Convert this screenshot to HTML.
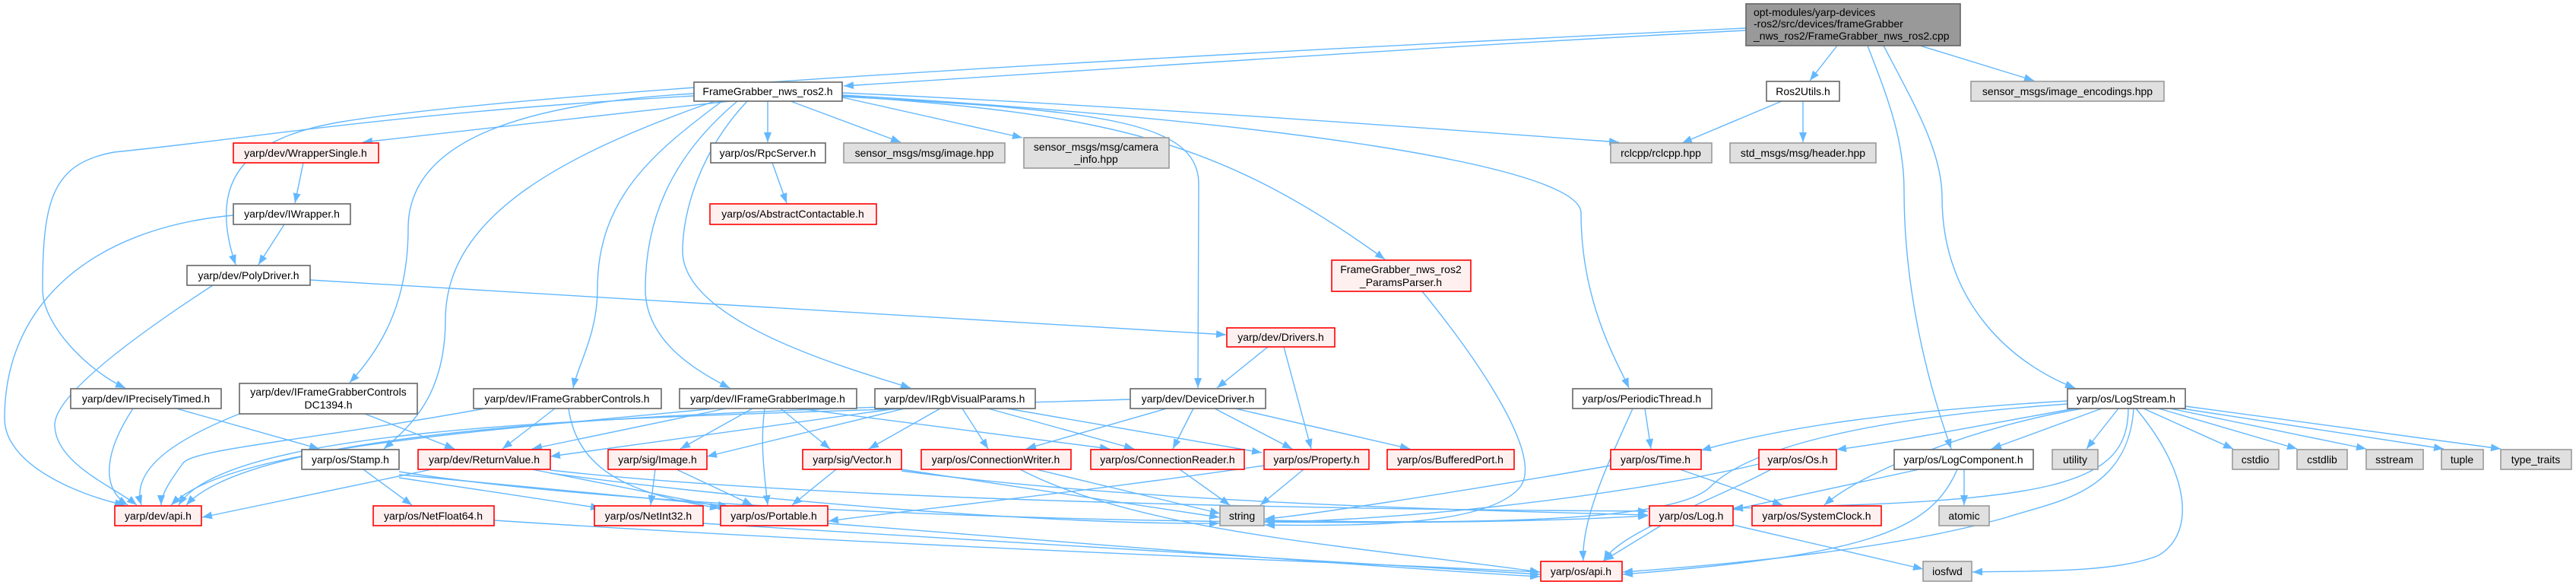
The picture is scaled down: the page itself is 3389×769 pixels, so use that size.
<!DOCTYPE html>
<html><head><meta charset="utf-8"><style>
html,body{margin:0;padding:0;background:#fff;}
svg{display:block;}
text{font-family:"Liberation Sans",sans-serif;font-size:14px;fill:#000;}
.e{fill:none;stroke:#63b8ff;stroke-width:1.4;marker-end:url(#a);}
.w{fill:#fff;stroke:#666;stroke-width:1.6;}
.r{fill:#fff0f0;stroke:#ff0000;stroke-width:1.6;}
.g{fill:#e0e0e0;stroke:#999;stroke-width:1.6;}
.k{fill:#999;stroke:#666;stroke-width:1.6;}
</style></head><body>
<svg width="3389" height="769" viewBox="0 0 3389 769" xmlns="http://www.w3.org/2000/svg">
<defs><marker id="a" markerUnits="userSpaceOnUse" markerWidth="14" markerHeight="10" refX="13" refY="5" orient="auto"><path d="M0,0 L13,5 L0,10 z" fill="#63b8ff"/></marker></defs>
<g>
<path class="e" d="M2297,40 C1900,60 1400,95 1110,113"/>
<path class="e" d="M2297,37 C1500,75 700,120 450,160 C330,180 270,230 310,348"/>
<path class="e" d="M2417,60 L2381,106"/>
<path class="e" d="M2526,60 L2676,106"/>
<path class="e" d="M2457,60 C2480,120 2505,180 2505,250 C2505,380 2535,500 2567,590"/>
<path class="e" d="M2478,60 C2520,140 2555,200 2555,260 C2555,400 2650,480 2730,510"/>
<path class="e" d="M960,133 L477,187"/>
<path class="e" d="M1010,133 L1010,187"/>
<path class="e" d="M1040,133 L1185,187"/>
<path class="e" d="M1108,128 L1345,181"/>
<path class="e" d="M1108,122 C1500,140 1900,170 2130,187"/>
<path class="e" d="M1108,126 C1450,150 1600,180 1822,341"/>
<path class="e" d="M1108,127 C1450,145 1575,160 1577,240 L1576,510"/>
<path class="e" d="M1108,125 C1700,160 2080,220 2080,280 C2080,400 2130,480 2143,510"/>
<path class="e" d="M913,126 C500,150 350,180 150,200 C70,215 56,260 56,380 C56,430 120,490 165,510"/>
<path class="e" d="M913,123 C700,135 537,180 537,300 C537,400 500,460 460,503"/>
<path class="e" d="M940,133 C750,200 586,280 586,420 C586,520 540,560 505,590"/>
<path class="e" d="M950,133 C860,200 786,260 786,380 C786,440 760,480 754,510"/>
<path class="e" d="M970,133 C890,200 849,280 849,380 C849,450 920,490 960,510"/>
<path class="e" d="M983,133 C920,200 898,280 898,330 C898,420 1100,480 1198,510"/>
<path class="e" d="M307,283 C120,300 6,400 6,550 C6,610 100,650 164,664"/>
<path class="e" d="M280,375 C180,440 70,520 72,560 C74,610 150,640 180,664"/>
<path class="e" d="M374,295 L340,348"/>
<path class="e" d="M399,214 L388,267"/>
<path class="e" d="M1016,214 L1035,267"/>
<path class="e" d="M408,368 L1613,440"/>
<path class="e" d="M1668,456 L1601,510"/>
<path class="e" d="M1689,456 L1725,590"/>
<path class="e" d="M2344,133 L2213,188"/>
<path class="e" d="M2372,133 L2372,187"/>
<path class="e" d="M1871,383 C1950,480 2030,600 2000,640 C1960,690 1800,692 1664,690"/>
<path class="e" d="M2148,537 C2120,600 2080,680 2083,737"/>
<path class="e" d="M2164,537 L2172,590"/>
<path class="e" d="M175,537 C140,590 130,640 168,664"/>
<path class="e" d="M232,537 L420,590"/>
<path class="e" d="M315,544 C250,570 170,610 186,664"/>
<path class="e" d="M480,544 L598,590"/>
<path class="e" d="M638,537 C400,580 250,590 240,610 C225,630 212,650 212,664"/>
<path class="e" d="M730,537 L661,590"/>
<path class="e" d="M748,537 C760,620 830,650 947,668"/>
<path class="e" d="M940,537 C600,570 300,590 225,664"/>
<path class="e" d="M955,537 L700,590"/>
<path class="e" d="M990,537 L895,590"/>
<path class="e" d="M1006,537 C1000,580 1005,620 1010,664"/>
<path class="e" d="M1027,537 L1092,590"/>
<path class="e" d="M1050,537 L1460,590"/>
<path class="e" d="M1200,537 C800,550 300,560 235,664"/>
<path class="e" d="M1180,537 L724,600"/>
<path class="e" d="M1190,537 L930,600"/>
<path class="e" d="M1237,537 L1143,590"/>
<path class="e" d="M1266,537 L1300,590"/>
<path class="e" d="M1300,537 L1492,590"/>
<path class="e" d="M1325,537 L1660,595"/>
<path class="e" d="M1487,525 C1000,540 350,550 245,664"/>
<path class="e" d="M1535,537 L1350,590"/>
<path class="e" d="M1570,537 L1543,590"/>
<path class="e" d="M1598,537 L1700,590"/>
<path class="e" d="M1625,537 L1855,590"/>
<path class="e" d="M478,617 L542,664"/>
<path class="e" d="M525,628 L790,668"/>
<path class="e" d="M525,624 L958,665"/>
<path class="e" d="M525,620 C900,680 1800,700 2168,678"/>
<path class="e" d="M568,617 L266,680"/>
<path class="e" d="M700,617 L958,668"/>
<path class="e" d="M724,622 C1000,660 1400,690 1604,688"/>
<path class="e" d="M724,618 C1100,660 1800,670 2168,672"/>
<path class="e" d="M862,617 L856,664"/>
<path class="e" d="M890,617 L990,664"/>
<path class="e" d="M1100,617 L1042,664"/>
<path class="e" d="M1186,617 L1604,680"/>
<path class="e" d="M1186,619 C1500,660 1900,670 2168,677"/>
<path class="e" d="M1363,617 L1605,675"/>
<path class="e" d="M1342,617 C1500,700 1800,720 2026,752"/>
<path class="e" d="M1552,617 L1618,664"/>
<path class="e" d="M1715,617 L1658,664"/>
<path class="e" d="M1663,612 C1400,650 1200,670 1090,685"/>
<path class="e" d="M2119,612 C1900,650 1700,680 1664,682"/>
<path class="e" d="M2210,617 L2345,664"/>
<path class="e" d="M650,684 C1200,720 1800,740 2026,752"/>
<path class="e" d="M925,688 C1400,720 1800,740 2026,755"/>
<path class="e" d="M1089,688 C1500,720 1800,745 2026,758"/>
<path class="e" d="M2720,527 C2500,540 2350,560 2238,592"/>
<path class="e" d="M2730,537 C2600,560 2500,580 2416,591"/>
<path class="e" d="M2765,537 L2620,590"/>
<path class="e" d="M2787,537 L2745,590"/>
<path class="e" d="M2820,537 L2938,590"/>
<path class="e" d="M2840,537 L3022,590"/>
<path class="e" d="M2855,537 L3113,590"/>
<path class="e" d="M2870,537 L3215,590"/>
<path class="e" d="M2875,534 L3290,590"/>
<path class="e" d="M2800,537 C2800,640 2700,660 2280,668"/>
<path class="e" d="M2740,537 C2600,560 2450,620 2400,664"/>
<path class="e" d="M2810,537 C2880,620 2890,700 2840,730 C2780,755 2650,750 2595,752"/>
<path class="e" d="M2807,537 C2800,650 2700,660 2640,680 C2500,720 2300,740 2135,752"/>
<path class="e" d="M2720,531 C2450,550 2300,590 2250,640 C2200,690 1900,688 1664,684"/>
<path class="e" d="M2525,617 L2280,670"/>
<path class="e" d="M2584,617 L2584,664"/>
<path class="e" d="M2575,617 C2540,700 2450,730 2135,755"/>
<path class="e" d="M2314,610 C2100,660 1800,686 1664,686"/>
<path class="e" d="M2330,617 C2250,660 2130,700 2110,737"/>
<path class="e" d="M2185,691 L2110,737"/>
<path class="e" d="M2280,690 L2530,748"/>
</g>
<g>
<rect class="k" x="2297" y="5" width="282" height="55"/>
<text x="2307" y="21">opt-modules/yarp-devices</text>
<text x="2307" y="36">-ros2/src/devices/frameGrabber</text>
<text x="2307" y="52">_nws_ros2/FrameGrabber_nws_ros2.cpp</text>

<rect class="w" x="913" y="108" width="195" height="25"/><text x="1010" y="125" text-anchor="middle">FrameGrabber_nws_ros2.h</text>
<rect class="w" x="2324" y="107" width="96" height="26"/><text x="2372" y="125" text-anchor="middle">Ros2Utils.h</text>
<rect class="g" x="2593" y="107" width="254" height="26"/><text x="2720" y="125" text-anchor="middle">sensor_msgs/image_encodings.hpp</text>
<rect class="r" x="307" y="188" width="191" height="26"/><text x="402" y="206" text-anchor="middle">yarp/dev/WrapperSingle.h</text>
<rect class="w" x="935" y="188" width="151" height="26"/><text x="1010" y="206" text-anchor="middle">yarp/os/RpcServer.h</text>
<rect class="g" x="1110" y="188" width="212" height="26"/><text x="1216" y="206" text-anchor="middle">sensor_msgs/msg/image.hpp</text>
<rect class="g" x="1347" y="181" width="191" height="40"/><text x="1442" y="198" text-anchor="middle">sensor_msgs/msg/camera</text><text x="1442" y="214" text-anchor="middle">_info.hpp</text>
<rect class="g" x="2119" y="188" width="133" height="26"/><text x="2185" y="206" text-anchor="middle">rclcpp/rclcpp.hpp</text>
<rect class="g" x="2276" y="188" width="192" height="26"/><text x="2372" y="206" text-anchor="middle">std_msgs/msg/header.hpp</text>
<rect class="w" x="307" y="268" width="154" height="27"/><text x="384" y="286" text-anchor="middle">yarp/dev/IWrapper.h</text>
<rect class="r" x="934" y="268" width="219" height="27"/><text x="1043" y="286" text-anchor="middle">yarp/os/AbstractContactable.h</text>
<rect class="w" x="246" y="349" width="162" height="26"/><text x="327" y="367" text-anchor="middle">yarp/dev/PolyDriver.h</text>
<rect class="r" x="1752" y="342" width="183" height="41"/><text x="1843" y="359" text-anchor="middle">FrameGrabber_nws_ros2</text><text x="1843" y="376" text-anchor="middle">_ParamsParser.h</text>
<rect class="r" x="1614" y="431" width="142" height="25"/><text x="1685" y="448" text-anchor="middle">yarp/dev/Drivers.h</text>
<rect class="w" x="93" y="511" width="198" height="26"/><text x="192" y="529" text-anchor="middle">yarp/dev/IPreciselyTimed.h</text>
<rect class="w" x="315" y="504" width="234" height="40"/><text x="432" y="520" text-anchor="middle">yarp/dev/IFrameGrabberControls</text><text x="432" y="537" text-anchor="middle">DC1394.h</text>
<rect class="w" x="623" y="511" width="247" height="26"/><text x="746" y="529" text-anchor="middle">yarp/dev/IFrameGrabberControls.h</text>
<rect class="w" x="894" y="511" width="233" height="26"/><text x="1010" y="529" text-anchor="middle">yarp/dev/IFrameGrabberImage.h</text>
<rect class="w" x="1151" y="511" width="211" height="26"/><text x="1256" y="529" text-anchor="middle">yarp/dev/IRgbVisualParams.h</text>
<rect class="w" x="1487" y="511" width="178" height="26"/><text x="1576" y="529" text-anchor="middle">yarp/dev/DeviceDriver.h</text>
<rect class="w" x="2069" y="511" width="183" height="26"/><text x="2160" y="529" text-anchor="middle">yarp/os/PeriodicThread.h</text>
<rect class="w" x="2720" y="511" width="155" height="26"/><text x="2797" y="529" text-anchor="middle">yarp/os/LogStream.h</text>
<rect class="w" x="397" y="591" width="128" height="26"/><text x="461" y="609" text-anchor="middle">yarp/os/Stamp.h</text>
<rect class="r" x="550" y="591" width="174" height="26"/><text x="637" y="609" text-anchor="middle">yarp/dev/ReturnValue.h</text>
<rect class="r" x="800" y="591" width="130" height="26"/><text x="865" y="609" text-anchor="middle">yarp/sig/Image.h</text>
<rect class="r" x="1056" y="591" width="130" height="26"/><text x="1121" y="609" text-anchor="middle">yarp/sig/Vector.h</text>
<rect class="r" x="1212" y="591" width="197" height="26"/><text x="1310" y="609" text-anchor="middle">yarp/os/ConnectionWriter.h</text>
<rect class="r" x="1435" y="591" width="202" height="26"/><text x="1536" y="609" text-anchor="middle">yarp/os/ConnectionReader.h</text>
<rect class="r" x="1663" y="591" width="138" height="26"/><text x="1732" y="609" text-anchor="middle">yarp/os/Property.h</text>
<rect class="r" x="1825" y="591" width="167" height="26"/><text x="1908" y="609" text-anchor="middle">yarp/os/BufferedPort.h</text>
<rect class="r" x="2119" y="591" width="119" height="26"/><text x="2178" y="609" text-anchor="middle">yarp/os/Time.h</text>
<rect class="r" x="2314" y="591" width="102" height="26"/><text x="2365" y="609" text-anchor="middle">yarp/os/Os.h</text>
<rect class="w" x="2492" y="591" width="183" height="26"/><text x="2583" y="609" text-anchor="middle">yarp/os/LogComponent.h</text>
<rect class="g" x="2700" y="591" width="60" height="26"/><text x="2730" y="609" text-anchor="middle">utility</text>
<rect class="g" x="2937" y="591" width="61" height="26"/><text x="2967" y="609" text-anchor="middle">cstdio</text>
<rect class="g" x="3022" y="591" width="66" height="26"/><text x="3055" y="609" text-anchor="middle">cstdlib</text>
<rect class="g" x="3113" y="591" width="75" height="26"/><text x="3150" y="609" text-anchor="middle">sstream</text>
<rect class="g" x="3212" y="591" width="55" height="26"/><text x="3239" y="609" text-anchor="middle">tuple</text>
<rect class="g" x="3290" y="591" width="93" height="26"/><text x="3336" y="609" text-anchor="middle">type_traits</text>
<rect class="r" x="151" y="665" width="114" height="26"/><text x="208" y="683" text-anchor="middle">yarp/dev/api.h</text>
<rect class="r" x="491" y="665" width="159" height="26"/><text x="570" y="683" text-anchor="middle">yarp/os/NetFloat64.h</text>
<rect class="r" x="782" y="665" width="143" height="26"/><text x="853" y="683" text-anchor="middle">yarp/os/NetInt32.h</text>
<rect class="r" x="948" y="665" width="141" height="26"/><text x="1018" y="683" text-anchor="middle">yarp/os/Portable.h</text>
<rect class="g" x="1605" y="665" width="58" height="26"/><text x="1634" y="683" text-anchor="middle">string</text>
<rect class="r" x="2170" y="665" width="110" height="26"/><text x="2225" y="683" text-anchor="middle">yarp/os/Log.h</text>
<rect class="r" x="2305" y="665" width="170" height="26"/><text x="2390" y="683" text-anchor="middle">yarp/os/SystemClock.h</text>
<rect class="g" x="2551" y="665" width="66" height="26"/><text x="2584" y="683" text-anchor="middle">atomic</text>
<rect class="r" x="2027" y="738" width="107" height="26"/><text x="2080" y="756" text-anchor="middle">yarp/os/api.h</text>
<rect class="g" x="2530" y="738" width="64" height="26"/><text x="2562" y="756" text-anchor="middle">iosfwd</text>
</g>
</svg>
</body></html>
